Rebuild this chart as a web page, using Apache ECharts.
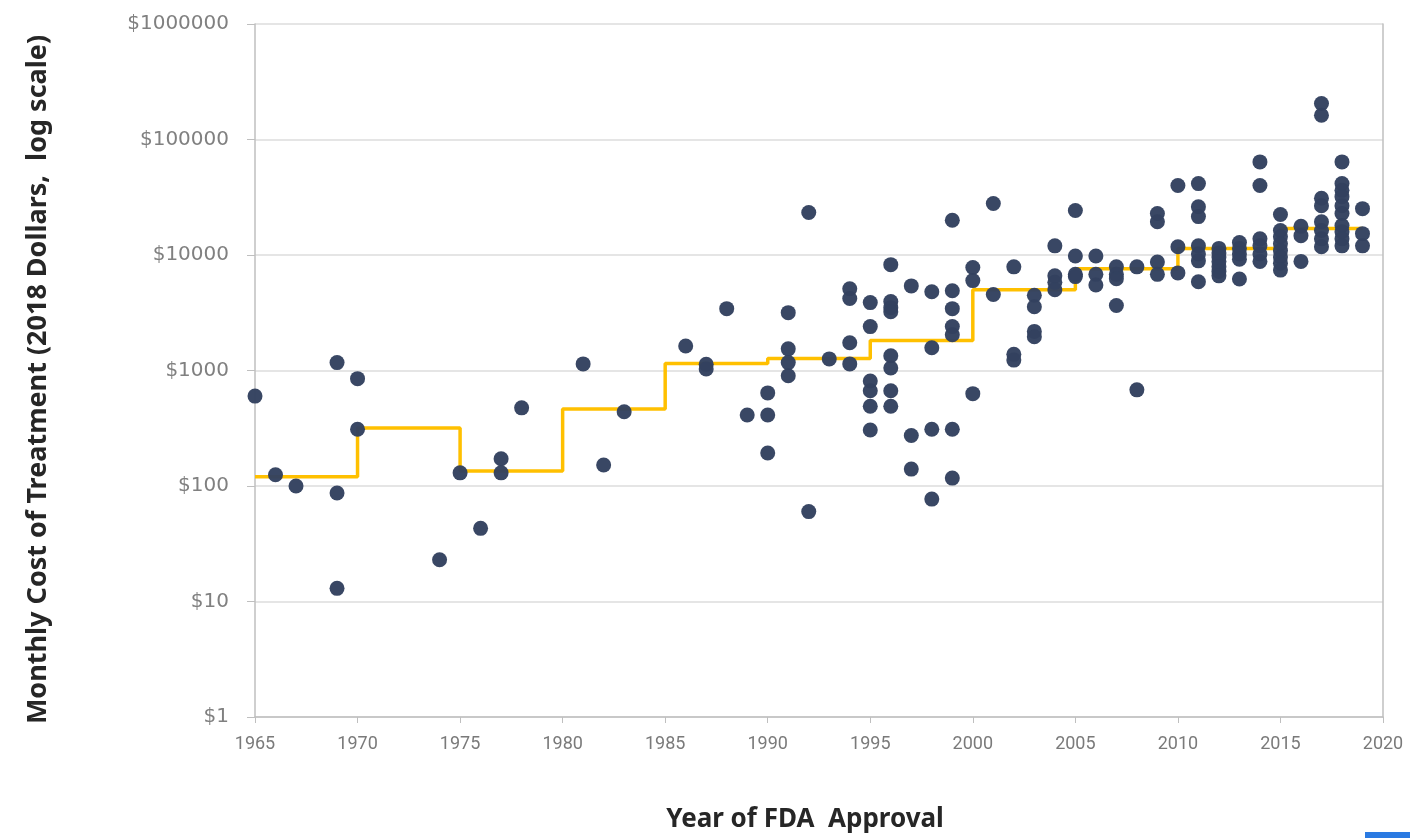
<!DOCTYPE html>
<html>
<head>
<meta charset="utf-8">
<script src="https://cdn.jsdelivr.net/npm/echarts@6/dist/echarts.min.js"></script>
<style>
html,body{margin:0;padding:0;background:#fff;}
#chart{width:1415px;height:838px;}
</style>
</head>
<body>
<div id="chart"></div>
<script>
// Approval year for each drug (one entry per dot)
const drugYears = [
  1965,
  1966,
  1967,
  1969,1969,1969,
  1970,1970,
  1974,
  1975,
  1976,
  1977,1977,
  1978,
  1981,
  1982,
  1983,
  1986,
  1987,1987,
  1988,
  1989,
  1990,1990,1990,
  1991,1991,1991,1991,
  1992,1992,
  1993,
  1994,1994,1994,1994,
  1995,1995,1995,1995,1995,1995,
  1996,1996,1996,1996,1996,1996,1996,1996,
  1997,1997,1997,
  1998,1998,1998,1998,
  1999,1999,1999,1999,1999,1999,1999,
  2000,2000,2000,
  2001,2001,
  2002,2002,2002,
  2003,2003,2003,2003,
  2004,2004,2004,2004,
  2005,2005,2005,2005,
  2006,2006,2006,
  2007,2007,2007,2007,
  2008,2008,
  2009,2009,2009,2009,
  2010,2010,2010,
  2011,2011,2011,2011,2011,2011,2011,
  2012,2012,2012,2012,2012,2012,2012,
  2013,2013,2013,2013,2013,
  2014,2014,2014,2014,2014,2014,
  2015,2015,2015,2015,2015,2015,2015,2015,
  2016,2016,2016,
  2017,2017,2017,2017,2017,2017,2017,2017,
  2018,2018,2018,2018,2018,2018,2018,2018,2018,2018,
  2019,2019,2019
];
// Monthly cost (2018 dollars) for each drug, same order
const drugCosts = [
  600,
  125,
  100,
  1170,87,13,
  850,310,
  23,
  130,
  43,
  172,130,
  475,
  1140,
  152,
  440,
  1630,
  1130,1030,
  3430,
  412,
  640,412,193,
  3170,1540,1170,900,
  23300,60,
  1260,
  5100,4200,1740,1140,
  3870,2400,810,667,490,305,
  8250,3950,3500,3230,1340,1050,667,490,
  5400,274,140,
  4800,1575,310,77,
  20000,4900,3430,2400,2040,310,117,
  7800,6000,630,
  27900,4550,
  7900,1380,1230,
  4480,3560,2180,1960,
  12000,6600,5800,5000,
  24300,9800,6800,6500,
  9800,6800,5500,
  7900,6800,6240,3650,
  7900,680,
  22900,19400,8700,6800,
  40000,11800,7000,
  41500,26200,21500,12000,10200,8900,5860,
  11400,10400,9600,8800,7900,7200,6600,
  12800,11400,10200,9200,6200,
  64000,40000,13800,12000,10200,8800,
  22400,16300,14400,12500,10900,9600,8500,7400,
  17700,14700,8800,
  205000,162000,31000,26700,19400,16300,13800,11800,
  64000,41500,36300,32000,26700,22900,18000,15900,13800,12000,
  25200,15300,12000
];
// Five-year period medians (step line)
const periodStarts = [1965,1970,1975,1980,1985,1990,1995,2000,2005,2010,2015,2019];
const periodMedians = [120,318,135,465,1150,1270,1820,5000,7600,11400,17000,17000];

const yTickLabels = {1:'$1',10:'$10',100:'$100',1000:'$1000',10000:'$10000',100000:'$100000',1000000:'$1000000'};
const xTitle = 'Year of FDA  Approval';
const yTitle = 'Monthly Cost of Treatment (2018 Dollars,  log scale)';

const scatterData = drugYears.map((y,i)=>[y, drugCosts[i]]);
const stepData = periodStarts.map((y,i)=>[y, periodMedians[i]]);

const chart = echarts.init(document.getElementById('chart'), null, {renderer:'canvas'});
chart.setOption({
  backgroundColor:'#ffffff',
  animation:false,
  grid:{left:255, right:32, top:24, bottom:120, containLabel:false},
  xAxis:{
    type:'value', min:1965, max:2020, interval:5,
    name:xTitle, nameLocation:'middle', nameGap:90,
    nameTextStyle:{fontFamily:'Noto Sans', fontSize:26, fontWeight:'bold', color:'#262626', padding:[0,28,0,0]},
    axisLine:{show:true, lineStyle:{color:'#bfbfbf', width:1.5}},
    axisTick:{show:true, length:6, lineStyle:{color:'#bfbfbf'}},
    axisLabel:{fontFamily:'Roboto', fontSize:18, color:'#7a7a7a', margin:18,
      formatter:v=>String(v)},
    splitLine:{show:false}
  },
  yAxis:[{
    type:'log', logBase:10, min:1, max:1000000,
    name:yTitle, nameLocation:'middle', nameGap:203, nameRotate:90,
    nameTextStyle:{fontFamily:'Noto Sans', fontSize:27, fontWeight:'bold', color:'#262626', padding:[0,18,0,0]},
    axisLine:{show:true, lineStyle:{color:'#bfbfbf', width:1.5}},
    axisTick:{show:true, inside:false, length:8, lineStyle:{color:'#bfbfbf'}},
    axisLabel:{fontFamily:'DejaVu Sans', fontSize:20, color:'#808080', margin:26,
      formatter:v=>yTickLabels[Math.round(v)] || ''},
    splitLine:{show:true, lineStyle:{color:'#dcdcdc', width:1.5}},
    minorTick:{show:false}
  },{
    type:'log', logBase:10, min:1, max:1000000, position:'right',
    axisLine:{show:true, onZero:false, lineStyle:{color:'#bfbfbf', width:1.5}},
    axisTick:{show:false}, axisLabel:{show:false}, splitLine:{show:false}
  }],
  series:[{
    type:'line', data:stepData, step:'end', symbol:'none',
    lineStyle:{color:'#FFC000', width:3.5}, z:2, yAxisIndex:0
  },{
    type:'scatter', data:scatterData, symbol:'circle', symbolSize:15,
    itemStyle:{color:'#33415f', opacity:0.97}, z:3, yAxisIndex:0
  }],
  graphic:[{
    type:'rect', shape:{x:1365, y:832, width:45, height:6},
    style:{fill:'#2a7ae2'}
  }]
});
</script>
</body>
</html>
